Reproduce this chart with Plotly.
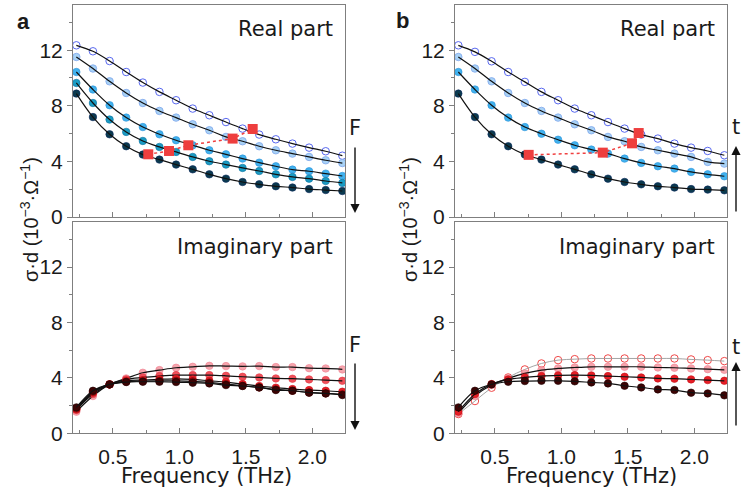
import plotly.graph_objects as go

# ---------------- data ----------------
freq = [0.225, 0.35, 0.475, 0.6, 0.725, 0.85, 0.975, 1.1, 1.225, 1.35,
        1.475, 1.6, 1.725, 1.85, 1.975, 2.1, 2.225]

# panel a, real part (5 fluences, top -> bottom)
a_real_1 = [12.35, 11.92, 11.22, 10.43, 9.67, 9.00, 8.40, 7.80, 7.32, 6.83, 6.36, 5.93, 5.59, 5.28, 4.99, 4.73, 4.41]
a_real_2 = [11.51, 10.68, 9.76, 8.92, 8.20, 7.63, 7.15, 6.67, 6.24, 5.76, 5.45, 5.09, 4.80, 4.56, 4.32, 4.08, 3.88]
a_real_3 = [10.43, 9.17, 8.04, 7.15, 6.47, 5.95, 5.52, 5.16, 4.80, 4.51, 4.20, 3.91, 3.65, 3.41, 3.29, 3.12, 2.95]
a_real_4 = [9.64, 8.20, 7.01, 6.12, 5.47, 5.04, 4.68, 4.32, 4.01, 3.77, 3.53, 3.31, 3.07, 2.88, 2.76, 2.59, 2.45]
a_real_5 = [8.88, 7.19, 5.95, 5.09, 4.49, 4.13, 3.77, 3.43, 3.07, 2.76, 2.52, 2.35, 2.21, 2.12, 2.01, 1.94, 1.87]

# panel a, imaginary part
a_imag_1 = [1.56, 2.69, 3.53, 3.96, 4.37, 4.56, 4.73, 4.80, 4.87, 4.85, 4.83, 4.85, 4.78, 4.78, 4.70, 4.68, 4.61]
a_imag_2 = [1.68, 2.83, 3.53, 3.89, 4.03, 4.13, 4.20, 4.20, 4.20, 4.15, 4.08, 4.03, 3.96, 3.94, 3.89, 3.84, 3.79]
a_imag_3 = [1.73, 2.93, 3.53, 3.79, 3.84, 3.89, 3.93, 3.89, 3.79, 3.70, 3.55, 3.41, 3.29, 3.19, 3.12, 3.07, 3.00]
a_imag_4 = [1.80, 3.00, 3.53, 3.72, 3.77, 3.79, 3.79, 3.75, 3.67, 3.55, 3.43, 3.31, 3.17, 3.07, 2.95, 2.88, 2.81]
a_imag_5 = [1.87, 3.07, 3.53, 3.70, 3.72, 3.72, 3.70, 3.65, 3.60, 3.48, 3.41, 3.31, 3.12, 3.07, 2.93, 2.88, 2.76]

# panel b, real part (4 delays, top -> bottom)
b_real_1 = [12.35, 11.88, 11.20, 10.43, 9.72, 9.00, 8.40, 7.80, 7.32, 6.83, 6.36, 5.93, 5.64, 5.28, 4.99, 4.75, 4.44]
b_real_2 = [11.51, 10.68, 9.76, 8.92, 8.20, 7.63, 7.15, 6.67, 6.24, 5.76, 5.45, 5.04, 4.80, 4.56, 4.32, 3.96, 3.84]
b_real_3 = [10.43, 9.17, 8.04, 7.15, 6.47, 5.99, 5.56, 5.16, 4.85, 4.56, 4.20, 3.89, 3.65, 3.48, 3.24, 3.07, 2.93]
b_real_4 = [8.88, 7.19, 5.95, 5.09, 4.49, 4.13, 3.77, 3.43, 3.07, 2.76, 2.52, 2.35, 2.21, 2.12, 2.01, 1.97, 1.92]

# panel b, imaginary part
b_imag_1 = [1.39, 2.33, 3.29, 4.03, 4.61, 5.04, 5.28, 5.35, 5.40, 5.40, 5.40, 5.40, 5.40, 5.40, 5.33, 5.28, 5.21]
b_imag_2 = [1.44, 2.69, 3.48, 3.96, 4.32, 4.56, 4.68, 4.75, 4.80, 4.80, 4.80, 4.80, 4.75, 4.73, 4.68, 4.63, 4.58]
b_imag_3 = [1.56, 2.83, 3.55, 3.89, 4.03, 4.13, 4.18, 4.20, 4.18, 4.13, 4.08, 4.03, 3.96, 3.94, 3.89, 3.84, 3.79]
b_imag_4 = [1.87, 3.07, 3.53, 3.72, 3.77, 3.79, 3.79, 3.75, 3.67, 3.60, 3.43, 3.31, 3.17, 3.12, 2.93, 2.88, 2.74]

# red square markers (peak positions)
a_sq_f = [0.766, 0.922, 1.067, 1.40, 1.551]
a_sq_v = [4.51, 4.75, 5.16, 5.64, 6.33]
b_sq_f = [0.754, 1.311, 1.531, 1.581]
b_sq_v = [4.47, 4.63, 5.30, 6.04]

tick_x = [0.5, 1.0, 1.5, 2.0]
tick_x_text = ["0.5", "1.0", "1.5", "2.0"]
tick_y = [0, 4, 8, 12]

# ---------------- figure ----------------
W, H = 742, 494
FONT = "Arial, Liberation Sans, sans-serif"
LFONT = "DejaVu Sans, Arial, sans-serif"
GREY = "#7f7f7f"

def px(x):
    return x / W

def py(y):
    return 1 - y / H

fig = go.Figure()

MS = 7.5
blue_styles = {
    "open": dict(symbol="circle-open", color="#5868f0", size=MS, line=dict(width=1, color="#5868f0")),
    "light": dict(symbol="circle", color="#a8d2f6", size=MS, line=dict(width=0.8, color="#7ea6ec")),
    "mid": dict(symbol="circle", color="#41b2ee", size=MS, line=dict(width=0.6, color="#2a90d8")),
    "teal": dict(symbol="circle", color="#1a9cc4", size=MS, line=dict(width=0.6, color="#1070a0")),
    "dark": dict(symbol="circle", color="#0b3a4e", size=MS, line=dict(width=0.6, color="#0b2a60")),
}
red_styles = {
    "open": dict(symbol="circle-open", color="#f04848", size=MS, line=dict(width=1, color="#f04848")),
    "pink": dict(symbol="circle", color="rgba(244,150,160,0.85)", size=MS, line=dict(width=0.6, color="#f08090")),
    "red1": dict(symbol="circle", color="#f0505a", size=MS, line=dict(width=0.6, color="#e03a44")),
    "red": dict(symbol="circle", color="#e61e26", size=MS, line=dict(width=0.6, color="#c81018")),
    "dark": dict(symbol="circle", color="#a00c10", size=MS, line=dict(width=0.6, color="#800808")),
    "black": dict(symbol="circle", color="#3c0404", size=MS, line=dict(width=0.6, color="#200000")),
}


def add_series(vals, marker, xa, ya, line_color="#111111", line_width=1.2):
    fig.add_trace(go.Scatter(x=freq, y=vals, mode="markers", marker=marker,
                             xaxis=xa, yaxis=ya, showlegend=False, hoverinfo="skip"))
    fig.add_trace(go.Scatter(x=freq, y=vals, mode="lines",
                             line=dict(color=line_color, width=line_width, shape="spline", smoothing=1.0),
                             xaxis=xa, yaxis=ya, showlegend=False, hoverinfo="skip"))


for vals, st in zip([a_real_1, a_real_2, a_real_3, a_real_4, a_real_5],
                    ["open", "light", "mid", "teal", "dark"]):
    add_series(vals, blue_styles[st], "x", "y")
for vals, st in zip([a_imag_1, a_imag_2, a_imag_3, a_imag_4, a_imag_5],
                    ["pink", "red1", "red", "dark", "black"]):
    add_series(vals, red_styles[st], "x2", "y2")
for vals, st in zip([b_real_1, b_real_2, b_real_3, b_real_4],
                    ["open", "light", "mid", "dark"]):
    add_series(vals, blue_styles[st], "x3", "y3")
for vals, st, lc, lw in zip([b_imag_1, b_imag_2, b_imag_3, b_imag_4],
                            ["open", "pink", "red", "black"],
                            ["#9a9a9a", "#111111", "#111111", "#111111"],
                            [0.9, 1.2, 1.2, 1.2]):
    add_series(vals, red_styles[st], "x4", "y4", line_color=lc, line_width=lw)

for fx, fv, xa, ya in [(a_sq_f, a_sq_v, "x", "y"), (b_sq_f, b_sq_v, "x3", "y3")]:
    fig.add_trace(go.Scatter(x=fx, y=fv, mode="lines+markers",
                             line=dict(color="#f04040", width=1.5, dash="dot"),
                             marker=dict(symbol="square", size=10, color="#ee3e3e"),
                             xaxis=xa, yaxis=ya, showlegend=False, hoverinfo="skip"))

xdom_a = [73 / W, 345 / W]
xdom_b = [455 / W, 727 / W]
ydom_top = [py(217), py(5)]
ydom_bot = [py(433.3), py(222)]

tickfont = dict(family=FONT, size=21, color="#1a1a1a")


def xaxis(domain, anchor, labels):
    return dict(domain=domain, anchor=anchor, range=[0.2, 2.245], automargin=False,
                tickvals=tick_x, ticktext=tick_x_text, ticks="inside", ticklen=5,
                tickcolor=GREY, tickwidth=1, ticklabelstandoff=4,
                minor=dict(tickvals=[0.25, 0.75, 1.25, 1.75], ticks="inside", ticklen=3, tickcolor=GREY),
                showline=True, linecolor=GREY, linewidth=1, mirror=True,
                showgrid=False, zeroline=False, showticklabels=labels, tickfont=tickfont)


def yaxis(domain, anchor):
    return dict(domain=domain, anchor=anchor, range=[0, 15.25], automargin=False,
                tickvals=tick_y, ticks="outside", ticklen=5, tickcolor=GREY, tickwidth=1,
                minor=dict(tickvals=[2, 6, 10, 14], ticks="outside", ticklen=3, tickcolor=GREY),
                showline=True, linecolor=GREY, linewidth=1, mirror=True,
                showgrid=False, zeroline=False, tickfont=tickfont)


fig.update_layout(
    width=W, height=H, margin=dict(l=0, r=0, t=0, b=0, pad=0, autoexpand=False),
    paper_bgcolor="white", plot_bgcolor="white",
    font=dict(family=FONT, color="#1a1a1a"),
    xaxis=xaxis(xdom_a, "y", False), yaxis=yaxis(ydom_top, "x"),
    xaxis2=xaxis(xdom_a, "y2", True), yaxis2=yaxis(ydom_bot, "x2"),
    xaxis3=xaxis(xdom_b, "y3", False), yaxis3=yaxis(ydom_top, "x3"),
    xaxis4=xaxis(xdom_b, "y4", True), yaxis4=yaxis(ydom_bot, "x4"),
)

ann = []


def text(x, y, s, size=21, xanchor="center", bold=False, angle=0, family=LFONT):
    ann.append(dict(x=px(x), y=py(y), xref="paper", yref="paper", text=("<b>%s</b>" % s) if bold else s,
                    showarrow=False, xanchor=xanchor, yanchor="middle", textangle=angle,
                    font=dict(family=family, size=size, color="#1a1a1a")))


def arrow(x, y_head, y_tail):
    ann.append(dict(x=px(x), y=py(y_head), xref="paper", yref="paper", text="",
                    ax=0, ay=y_tail - y_head, axref="pixel", ayref="pixel",
                    showarrow=True, arrowhead=2, arrowsize=1.3, arrowwidth=1.4, arrowcolor="#111111"))


text(23, 22, "a", size=22, bold=True, family=FONT)
text(402, 20, "b", size=22, bold=True, family=FONT)
text(335, 29, "Real part", xanchor="right")
text(717, 29, "Real part", xanchor="right")
text(335, 247, "Imaginary part", xanchor="right")
text(717, 247, "Imaginary part", xanchor="right")
ytitle = "σ·d (10<sup>−3</sup>·Ω<sup>−1</sup>)"
text(29, 220, ytitle, size=20, angle=-90, family=FONT)
text(408, 220, ytitle, size=20, angle=-90, family=FONT)
text(207, 476, "Frequency (THz)")
text(591, 476, "Frequency (THz)")
text(355, 128, "F")
arrow(355, 213, 146)
text(355, 345, "F")
arrow(355, 430, 362)
text(736, 127, "t")
arrow(736, 146, 213)
text(736, 347, "t")
arrow(736, 362, 427)

fig.update_layout(annotations=ann)

post = """
var de = document.documentElement, b = document.body;
de.style.margin = '0'; de.style.padding = '0'; de.style.overflow = 'hidden';
b.style.margin = '0'; b.style.padding = '0'; b.style.overflow = 'hidden';
"""
fig.write_html("out.html", config={"displayModeBar": False}, post_script=post)
